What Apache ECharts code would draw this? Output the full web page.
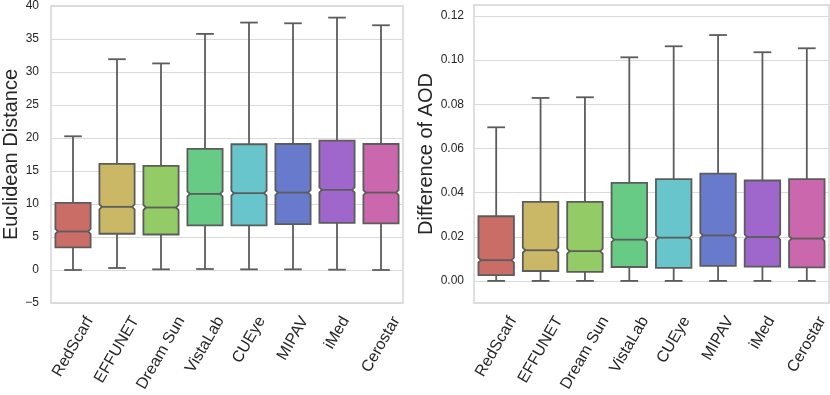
<!DOCTYPE html>
<html>
<head>
<meta charset="utf-8">
<script src="https://cdn.jsdelivr.net/npm/echarts@6/dist/echarts.min.js"></script>
<style>
  html, body { margin: 0; padding: 0; background: #fff; }
  #chart { width: 830px; height: 395px; }
</style>
</head>
<body>
<div id="chart"></div>
<script>
const categories = ["RedScarf", "EFFUNET", "Dream Sun", "VistaLab", "CUEye", "MIPAV", "iMed", "Cerostar"];
const colors = ["#cb6d67", "#cbb867", "#93cb67", "#67cb86", "#67c5cb", "#677acb", "#9f67cb", "#cb67ac"];

// Euclidean distance (left)
const distLow = [0.0, 0.3, 0.1, 0.15, 0.1, 0.1, 0.05, 0.0];
const distQ1 = [3.42, 5.49, 5.38, 6.75, 6.75, 6.95, 7.15, 7.05];
const distMed = [5.84, 9.57, 9.47, 11.53, 11.64, 11.73, 12.14, 11.73];
const distQ3 = [10.17, 16.07, 15.77, 18.34, 19.05, 19.09, 19.6, 19.09];
const distHigh = [20.26, 31.94, 31.3, 35.77, 37.49, 37.38, 38.24, 37.08];

// Difference of AOD (right)
const aodLow = [0, 0, 0, 0, 0, 0, 0, 0];
const aodQ1 = [0.0026, 0.0045, 0.0041, 0.0063, 0.0059, 0.0068, 0.0065, 0.0061];
const aodMed = [0.0094, 0.0139, 0.0135, 0.0187, 0.0196, 0.0206, 0.0199, 0.0192];
const aodQ3 = [0.0293, 0.0358, 0.0358, 0.0444, 0.0461, 0.0486, 0.0455, 0.0461];
const aodHigh = [0.0696, 0.0829, 0.0832, 0.1013, 0.1063, 0.1114, 0.1036, 0.1054];
const aodTicks = [0, 0.02, 0.04, 0.06, 0.08, 0.1, 0.12];

const FONT = '"Liberation Sans", Arial, sans-serif';
const lineColor = "#5c5c5c";
const lw = 1.8;
const labelSize = 16;

const measureCtx = document.createElement("canvas").getContext("2d");
measureCtx.font = labelSize + "px " + FONT;

const makeSeries = (idx, low, q1, med, q3, high, yMin) => {
  return {
    type: "custom",
    xAxisIndex: idx,
    yAxisIndex: idx,
    clip: false,
    data: categories.map((c, i) => [i, low[i], q1[i], med[i], q3[i], high[i]]),
    encode: { x: 0, y: [1, 2, 3, 4, 5] },
    renderItem: (params, api) => {
      const i = api.value(0);
      const xc = api.coord([i, api.value(3)])[0];
      const yLow = api.coord([i, api.value(1)])[1];
      const yQ1 = api.coord([i, api.value(2)])[1];
      const yMed = api.coord([i, api.value(3)])[1];
      const yQ3 = api.coord([i, api.value(4)])[1];
      const yHigh = api.coord([i, api.value(5)])[1];
      const yBase = api.coord([i, yMin])[1];
      const w = api.size([1, 0])[0] * 0.8;
      const x0 = xc - w / 2, x1 = xc + w / 2, cap = w / 4;
      const nh = 2.5, ind = 2.5;
      const ls = { stroke: lineColor, lineWidth: lw };

      // rotated tick label, bbox centred under the box, top aligned
      const name = categories[i];
      const L = measureCtx.measureText(name).width;
      const halfH = (L * Math.sin(Math.PI / 3) + labelSize * 0.72 * 0.5) / 2;
      const topY = yBase + 12;

      return {
        type: "group",
        children: [
          { type: "line", shape: { x1: xc, y1: yQ3, x2: xc, y2: yHigh }, style: ls },
          { type: "line", shape: { x1: xc, y1: yQ1, x2: xc, y2: yLow }, style: ls },
          { type: "line", shape: { x1: xc - cap, y1: yHigh, x2: xc + cap, y2: yHigh }, style: ls },
          { type: "line", shape: { x1: xc - cap, y1: yLow, x2: xc + cap, y2: yLow }, style: ls },
          {
            type: "polygon",
            shape: {
              points: [
                [x0, yQ3], [x1, yQ3], [x1, yMed - nh], [x1 - ind, yMed], [x1, yMed + nh],
                [x1, yQ1], [x0, yQ1], [x0, yMed + nh], [x0 + ind, yMed], [x0, yMed - nh]
              ]
            },
            style: { fill: colors[i], stroke: lineColor, lineWidth: lw }
          },
          { type: "line", shape: { x1: x0 + ind, y1: yMed, x2: x1 - ind, y2: yMed }, style: ls },
          {
            type: "text",
            x: xc,
            y: topY + halfH,
            rotation: Math.PI / 3,
            style: {
              text: name,
              fontSize: labelSize,
              fontFamily: FONT,
              fill: "#262626",
              align: "center",
              verticalAlign: "middle"
            }
          }
        ]
      };
    }
  };
};

const myChart = echarts.init(document.getElementById("chart"));

const gridStyle = { show: true, borderColor: "#d2d2d2", borderWidth: 1.4, backgroundColor: "transparent" };
const splitStyle = { show: true, lineStyle: { color: "#dadada", width: 1.2 } };
const xBase = {
  type: "category",
  data: categories,
  axisLine: { show: false },
  axisTick: { show: false },
  axisLabel: { show: false },
  splitLine: { show: false }
};

let option = {
  animation: false,
  textStyle: { fontFamily: FONT },
  grid: [
    Object.assign({ left: 48, right: 427, top: 5, bottom: 92 }, gridStyle),
    Object.assign({ left: 474, right: 1, top: 5, bottom: 92 }, gridStyle)
  ],
  xAxis: [
    Object.assign({ gridIndex: 0 }, xBase),
    Object.assign({ gridIndex: 1 }, xBase)
  ],
  yAxis: [
    {
      gridIndex: 0,
      type: "value",
      min: -5,
      max: 40,
      interval: 5,
      name: "Euclidean Distance",
      nameLocation: "middle",
      nameGap: 30,
      nameTextStyle: { fontSize: 20, color: "#262626", fontFamily: FONT },
      axisLine: { show: false },
      axisTick: { show: false },
      axisLabel: {
        margin: 12,
        fontSize: 12,
        color: "#262626",
        formatter: (v) => (v < 0 ? "\u2212" + Math.abs(v) : String(v))
      },
      splitLine: splitStyle
    },
    {
      gridIndex: 1,
      type: "value",
      min: -0.01,
      max: 0.125,
      name: "Difference of AOD",
      nameLocation: "middle",
      nameGap: 37,
      nameTextStyle: { fontSize: 20, color: "#262626", fontFamily: FONT },
      axisLine: { show: false },
      axisTick: { show: false, customValues: aodTicks },
      axisLabel: {
        margin: 10,
        fontSize: 12,
        color: "#262626",
        customValues: aodTicks,
        formatter: (v) => v.toFixed(2)
      },
      splitLine: splitStyle
    }
  ],
  series: [
    makeSeries(0, distLow, distQ1, distMed, distQ3, distHigh, -5),
    makeSeries(1, aodLow, aodQ1, aodMed, aodQ3, aodHigh, -0.01)
  ]
};
myChart.setOption(option);
</script>
</body>
</html>
